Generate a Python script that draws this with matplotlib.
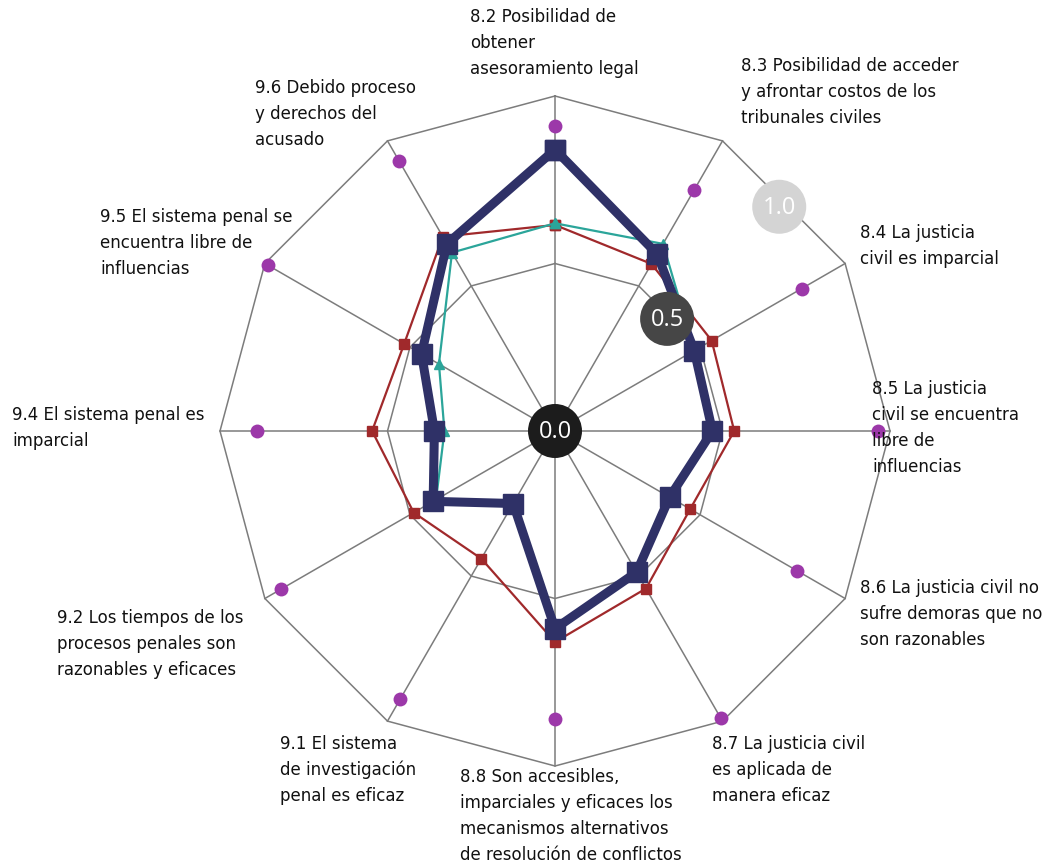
import numpy as np
import matplotlib
matplotlib.use('Agg')
import matplotlib.pyplot as plt

## Axis labels, clockwise from the top
labels = [
    "8.2 Posibilidad de\nobtener\nasesoramiento legal",
    "8.3 Posibilidad de acceder\ny afrontar costos de los\ntribunales civiles",
    "8.4 La justicia\ncivil es imparcial",
    "8.5 La justicia\ncivil se encuentra\nlibre de\ninfluencias",
    "8.6 La justicia civil no\nsufre demoras que no\nson razonables",
    "8.7 La justicia civil\nes aplicada de\nmanera eficaz",
    "8.8 Son accesibles,\nimparciales y eficaces los\nmecanismos alternativos\nde resolución de conflictos",
    "9.1 El sistema\nde investigación\npenal es eficaz",
    "9.2 Los tiempos de los\nprocesos penales son\nrazonables y eficaces",
    "9.4 El sistema penal es\nimparcial",
    "9.5 El sistema penal se\nencuentra libre de\ninfluencias",
    "9.6 Debido proceso\ny derechos del\nacusado",
]

## Scores (0 - 1)
pais = [0.84, 0.61, 0.48, 0.47, 0.395, 0.487, 0.59, 0.25, 0.42, 0.36, 0.46, 0.645]
region = [0.615, 0.576, 0.54, 0.535, 0.466, 0.543, 0.63, 0.44, 0.487, 0.546, 0.52, 0.67]
ingreso = [0.62, 0.645, 0.48, 0.47, 0.395, 0.487, 0.60, 0.25, 0.41, 0.33, 0.40, 0.615]
mejor = [0.91, 0.83, 0.85, 0.965, 0.835, 0.99, 0.86, 0.925, 0.945, 0.89, 0.99, 0.93]

ring_values = [0.5, 1.0]
ring_text = ["0.0", "0.5", "1.0"]
ring_colors = ["#1c1c1c", "#464646", "#d4d4d4"]

## layout in pixels
W, H = 1063, 862
cx, cy, R = 555, 432, 335
label_pos = [(470, 43), (741, 92), (860, 246), (872, 428), (860, 614), (712, 770),
             (460, 816), (280, 770), (57, 644), (12, 428), (100, 243), (255, 114)]

fig = plt.figure(figsize=(W / 100, H / 100), dpi=100)
ax = fig.add_axes([0, 0, 1, 1])
ax.set_xlim(-cx / R, (W - cx) / R)
ax.set_ylim(-(H - cy) / R, cy / R)
ax.set_aspect('equal')
ax.axis('off')

n = len(labels)
ang = np.arange(n) * 2 * np.pi / n


def to_xy(vals, close=True):
    v = np.asarray(vals, dtype=float)
    x = v * np.sin(ang)
    y = v * np.cos(ang)
    if close:
        x = np.append(x, x[0])
        y = np.append(y, y[0])
    return x, y


## grid
grid_col = '#7c7c7c'
for rv in ring_values:
    gx, gy = to_xy([rv] * n)
    ax.plot(gx, gy, color=grid_col, lw=1.1, zorder=1)
for a in ang:
    ax.plot([0, np.sin(a)], [0, np.cos(a)], color=grid_col, lw=1.1, zorder=1)

## series
mx, my = to_xy(mejor, close=False)
ax.plot(mx, my, 'o', color='#9c38a9', markersize=10, markeredgewidth=0, zorder=2)

rx, ry = to_xy(region)
ax.plot(rx, ry, '-s', color='#a0292b', lw=1.6, markersize=7, zorder=3)

tx, ty = to_xy(ingreso)
ax.plot(tx, ty, '-^', color='#2ba59a', lw=1.6, markersize=7, zorder=4)

px_, py_ = to_xy(pais)
ax.plot(px_, py_, '-s', color='#2f3167', lw=6.5, markersize=14, zorder=5)

## radial value markers
ring_r = [0.0] + [rv * np.cos(np.pi / 12) * 0.98 for rv in ring_values]
for rr, txt, col in zip(ring_r, ring_text, ring_colors):
    x0 = rr * np.sin(np.pi / 4)
    y0 = rr * np.cos(np.pi / 4)
    ax.add_patch(plt.Circle((x0, y0), 27 / R, color=col, zorder=6, lw=0))
    ax.text(x0, y0, txt, color='white', fontsize=17, family='Open Sans',
            ha='center', va='center', zorder=7)

## axis labels
for lab, (lx, ly) in zip(labels, label_pos):
    fig.text(lx / W, 1 - ly / H, lab, fontsize=12, family='DejaVu Sans',
             ha='left', va='center', linespacing=1.57, color='#111111')

fig.savefig('out.png', dpi=100)
